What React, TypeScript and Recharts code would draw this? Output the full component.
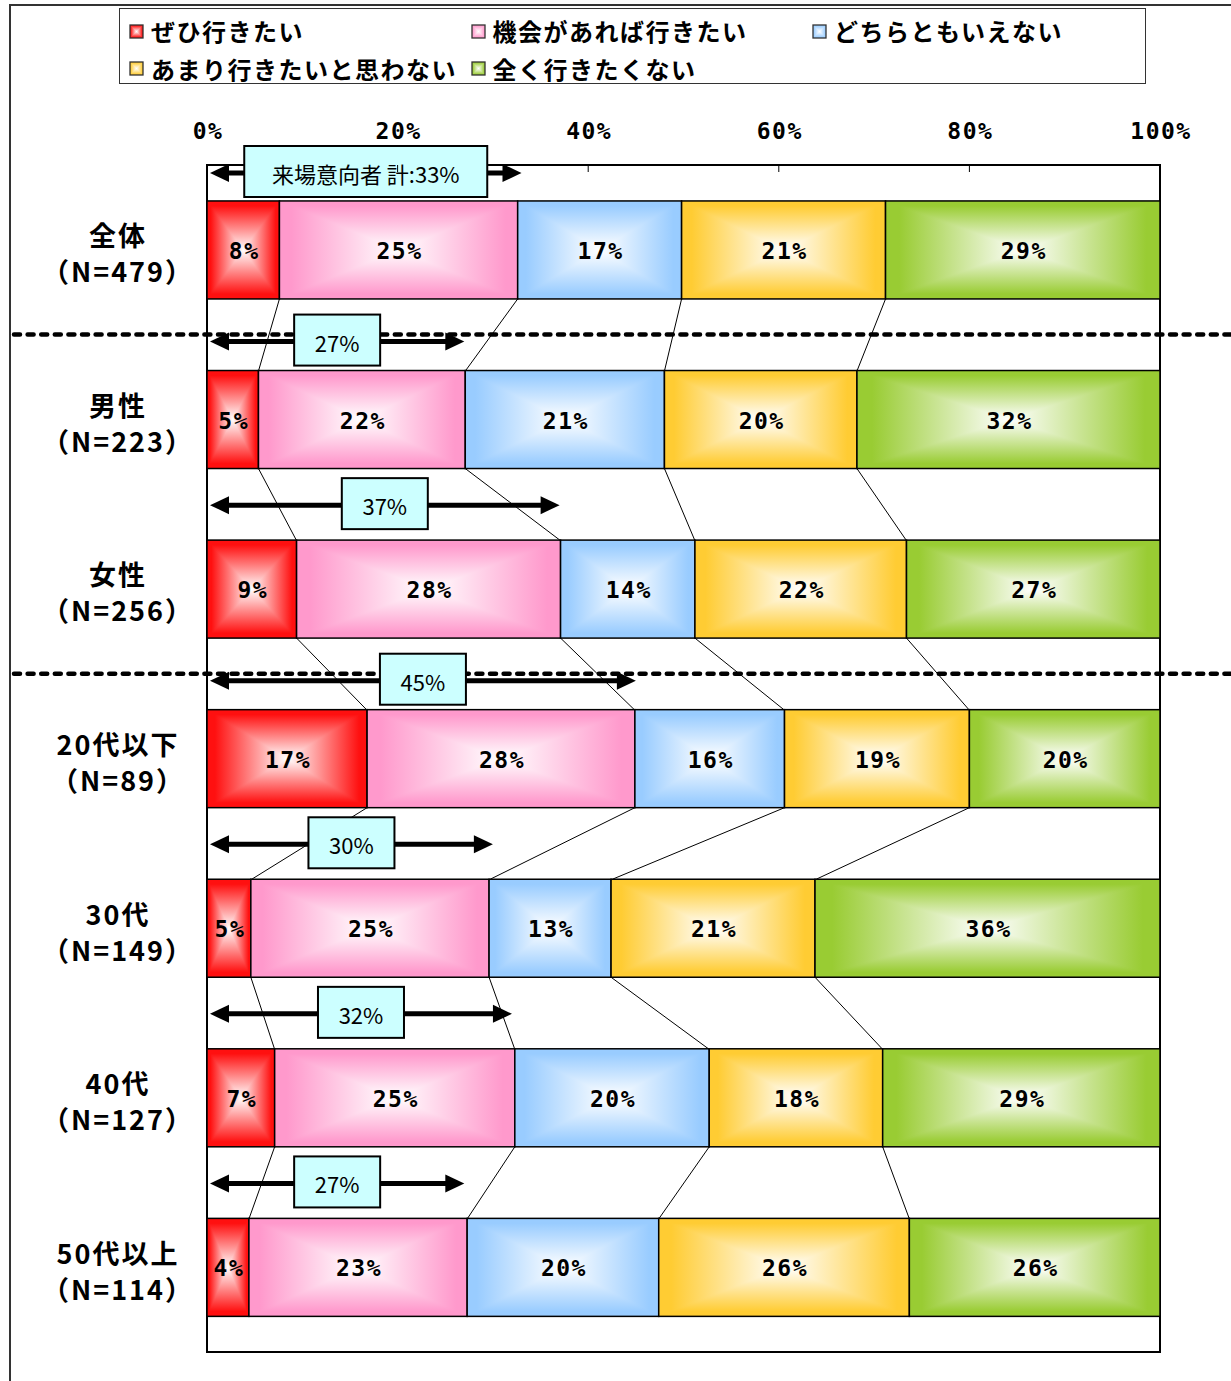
import React from 'react';
import {
  BarChart,
  Bar,
  XAxis,
  YAxis,
  Legend,
  LabelList,
  ReferenceLine,
  ReferenceArea,
} from 'recharts';

const GROUPS = ['全体', '男性', '女性', '20代以下', '30代', '40代', '50代以上'];
const SAMPLE_N = [479, 223, 256, 89, 149, 127, 114];

const SERIES_KEYS = ['s1', 's2', 's3', 's4', 's5'];
const SERIES_NAMES = [
  'ぜひ行きたい',
  '機会があれば行きたい',
  'どちらともいえない',
  'あまり行きたいと思わない',
  '全く行きたくない',
];
const SERIES_COLORS = ['#ff1010', '#ff99cc', '#99ccff', '#ffcc33', '#99cc33'];

// share per group (%)
const DEFINITELY = [7.6, 5.4, 9.4, 16.8, 4.6, 7.1, 4.4];
const IF_CHANCE = [25.0, 21.7, 27.7, 28.1, 25.0, 25.2, 22.9];
const NEUTRAL = [17.2, 20.9, 14.1, 15.7, 12.8, 20.4, 20.1];
const NOT_MUCH = [21.4, 20.2, 22.2, 19.4, 21.4, 18.2, 26.3];
const NEVER = [28.8, 31.8, 26.6, 20.0, 36.2, 29.1, 26.3];

// 来場意向者 (ぜひ + 機会があれば)
const INTENT_TOTAL = [33, 27, 37, 45, 30, 32, 27];
const INTENT_LABELS = ['来場意向者 計:33%', '27%', '37%', '45%', '30%', '32%', '27%'];

const X_TICKS = [0, 20, 40, 60, 80, 100];
const SEPARATOR_BEFORE = ['男性', '20代以下'];

const SERIES_VALUES = [DEFINITELY, IF_CHANCE, NEUTRAL, NOT_MUCH, NEVER];

const CHART_W = 1231;
const CHART_H = 1381;
const BAR_GAP = 0.212;
const MONO = "'DejaVu Sans Mono', monospace";
const JP = "'Noto Sans CJK JP', 'Noto Sans', sans-serif";

const data = GROUPS.map((group, i) => {
  const row: Record<string, string | number> = { group, n: SAMPLE_N[i] };
  SERIES_KEYS.forEach((key, k) => {
    row[key] = SERIES_VALUES[k][i];
  });
  return row;
});

const cumulative = (i: number, k: number) =>
  SERIES_VALUES.slice(0, k).reduce((s, arr) => s + arr[i], 0);

// box-shaped "from centre" gradient: four triangles, colour at the edge, white in the middle
function GradBox(props: any) {
  const { x, y, width, height, k, stroke = '#000', strokeWidth = 1.5 } = props;
  if (width == null || height == null || width <= 0 || height <= 0) return null;
  const cx = x + width / 2;
  const cy = y + height / 2;
  const id = `grad-${k}`;
  return (
    <g>
      <rect x={x} y={y} width={width} height={height} fill={`url(#${id}-c)`} />
      <path d={`M${x},${y}L${x + width},${y}L${cx},${cy}Z`} fill={`url(#${id}-t)`} />
      <path d={`M${x},${y + height}L${x + width},${y + height}L${cx},${cy}Z`} fill={`url(#${id}-b)`} />
      <path d={`M${x},${y}L${x},${y + height}L${cx},${cy}Z`} fill={`url(#${id}-l)`} />
      <path d={`M${x + width},${y}L${x + width},${y + height}L${cx},${cy}Z`} fill={`url(#${id}-r)`} />
      <rect x={x} y={y} width={width} height={height} fill="none" stroke={stroke} strokeWidth={strokeWidth} />
    </g>
  );
}

// last segment of each row: also draws the thin lines down to the next row's boundaries
function LastSegment(props: any) {
  const { x, y, width, height, index } = props;
  if (width == null || height == null) return null;
  const k = SERIES_KEYS.length - 1;
  const pxPerUnit = width / SERIES_VALUES[k][index];
  const left = x - cumulative(index, k) * pxPerUnit;
  const band = height / (1 - 2 * BAR_GAP);
  const bottom = y + height;
  const nextTop = bottom + 2 * BAR_GAP * band;
  const lines = [];
  if (index < GROUPS.length - 1) {
    for (let b = 1; b < SERIES_KEYS.length; b++) {
      lines.push(
        <line
          key={b}
          x1={left + cumulative(index, b) * pxPerUnit}
          y1={bottom}
          x2={left + cumulative(index + 1, b) * pxPerUnit}
          y2={nextTop}
          stroke="#000"
          strokeWidth={1}
        />
      );
    }
  }
  return (
    <g>
      <GradBox {...props} k={k} />
      {lines}
    </g>
  );
}

const gradStops = (c: string) => [
  <stop key="a" offset="0" stopColor={c} />,
  <stop key="b" offset="0.1" stopColor={c} />,
  <stop key="c" offset="1" stopColor="#ffffff" />,
];

const PctTick = (props: any) => {
  const { x, y, payload } = props;
  return (
    <text x={x + 1} y={y} textAnchor="middle" fontSize={23} fontWeight={700} fontFamily={MONO} letterSpacing={1.5} fill="#000">
      {payload.value}%
    </text>
  );
};

const GroupTick = (props: any) => {
  const { x, y, payload } = props;
  const i = GROUPS.indexOf(payload.value);
  const style = { fontSize: 27, fontWeight: 700, fontFamily: JP, letterSpacing: 2, fill: '#000' };
  return (
    <g>
      <text x={x - 89} y={y - 15} textAnchor="middle" dominantBaseline="central" style={style}>
        {payload.value}
      </text>
      <text x={x - 89} y={y + 21} textAnchor="middle" dominantBaseline="central" style={style}>
        （N={SAMPLE_N[i]}）
      </text>
    </g>
  );
};

const renderValue = (props: any) => {
  const vb = props.viewBox ?? props;
  const { x, y, width, height } = vb;
  return (
    <text
      x={x + width / 2 + 1}
      y={y + height / 2 + 1}
      textAnchor="middle"
      dominantBaseline="central"
      fontSize={23}
      fontWeight={700}
      fontFamily={MONO}
      letterSpacing={1.5}
      fill="#000"
    >
      {Math.round(props.value)}%
    </text>
  );
};

const renderLegend = (props: any) => {
  const payload = props.payload || [];
  return (
    <div
      style={{
        position: 'relative',
        width: '100%',
        height: '100%',
        border: '1px solid #333',
        boxSizing: 'border-box',
        background: '#fff',
      }}
    >
      {payload.map((item: any) => {
        const k = SERIES_KEYS.indexOf(item.dataKey);
        const col = k % 3;
        const row = Math.floor(k / 3);
        return (
          <div
            key={item.dataKey}
            style={{
              position: 'absolute',
              left: 9 + col * 341.5,
              top: 6 + row * 37.5,
              height: 32,
              display: 'flex',
              alignItems: 'center',
              whiteSpace: 'nowrap',
            }}
          >
            <svg width={15} height={15} style={{ display: 'block' }}>
              <GradBox x={1} y={1} width={13} height={13} k={k} stroke="#333" strokeWidth={1.3} />
            </svg>
            <span style={{ marginLeft: 7, fontFamily: JP, fontWeight: 700, fontSize: 24, letterSpacing: 1.5, lineHeight: 1, color: '#000' }}>
              {item.value}
            </span>
          </div>
        );
      })}
    </div>
  );
};

const IntentArrow = (props: any) => {
  const { x1, x2, text, dy } = props;
  const y1 = props.y1 + dy;
  const head = 19;
  const half = 9;
  const l = x1 + 3;
  const r = x2;
  const mid = (l + r) / 2;
  const boxW = text.length > 4 ? 243 : 86;
  return (
    <g>
      <line x1={l + head - 2} x2={r - head + 2} y1={y1} y2={y1} stroke="#000" strokeWidth={5} />
      <path d={`M${l},${y1}L${l + head},${y1 - half}L${l + head},${y1 + half}Z`} fill="#000" />
      <path d={`M${r},${y1}L${r - head},${y1 - half}L${r - head},${y1 + half}Z`} fill="#000" />
      <rect x={mid - boxW / 2} y={y1 - 27} width={boxW} height={51} fill="#ccffff" stroke="#000" strokeWidth={2} />
      <text x={mid} y={y1} textAnchor="middle" dominantBaseline="central" fontSize={22} fontFamily={JP} fill="#000">
        {text}
      </text>
    </g>
  );
};

export default function App() {
  return (
    <div style={{ position: 'absolute', left: 0, top: 0, width: CHART_W, height: CHART_H, overflow: 'hidden', background: '#fff' }}>
      <div
        style={{
          position: 'absolute',
          left: 9,
          top: 4,
          width: CHART_W + 40,
          height: CHART_H + 40,
          border: '2px solid #333',
        }}
      />
      <BarChart
        width={CHART_W}
        height={CHART_H}
        data={data}
        layout="vertical"
        margin={{ top: 125, right: 71, bottom: 29, left: 7 }}
        barCategoryGap={`${BAR_GAP * 100}%`}
      >
        <defs>
          {SERIES_COLORS.map((c, k) => (
            <React.Fragment key={c}>
              <linearGradient id={`grad-${k}-t`} x1="0" y1="0" x2="0" y2="1">{gradStops(c)}</linearGradient>
              <linearGradient id={`grad-${k}-b`} x1="0" y1="1" x2="0" y2="0">{gradStops(c)}</linearGradient>
              <linearGradient id={`grad-${k}-l`} x1="0" y1="0" x2="1" y2="0">{gradStops(c)}</linearGradient>
              <linearGradient id={`grad-${k}-r`} x1="1" y1="0" x2="0" y2="0">{gradStops(c)}</linearGradient>
              <radialGradient id={`grad-${k}-c`} cx="0.5" cy="0.5" r="0.6">
                <stop offset="0" stopColor="#ffffff" />
                <stop offset="1" stopColor={c} />
              </radialGradient>
            </React.Fragment>
          ))}
        </defs>
        <XAxis
          type="number"
          orientation="top"
          domain={[0, 100]}
          ticks={X_TICKS}
          interval={0}
          height={40}
          tickSize={-7}
          tickMargin={33}
          axisLine={false}
          tickLine={{ stroke: '#000', strokeWidth: 1 }}
          tick={<PctTick />}
        />
        <YAxis
          type="category"
          dataKey="group"
          width={200}
          interval={0}
          axisLine={false}
          tickLine={false}
          tickSize={0}
          tickMargin={0}
          tick={<GroupTick />}
        />
        <Legend
          layout="horizontal"
          verticalAlign="middle"
          align="center"
          wrapperStyle={{ top: 8, left: 119, width: 1027, height: 76 }}
          content={renderLegend}
        />
        {SERIES_KEYS.map((key, k) => (
          <Bar
            key={key}
            dataKey={key}
            name={SERIES_NAMES[k]}
            stackId="a"
            fill={SERIES_COLORS[k]}
            isAnimationActive={false}
            shape={
              k === SERIES_KEYS.length - 1
                ? (p: any) => <LastSegment {...p} />
                : (p: any) => <GradBox {...p} k={k} />
            }
          >
            <LabelList dataKey={key} content={renderValue} />
          </Bar>
        ))}
        <ReferenceArea x1={0} x2={100} fill="none" fillOpacity={0} stroke="#000" strokeWidth={2} />
        {SEPARATOR_BEFORE.map((g) => (
          <ReferenceLine
            key={`sep-${g}`}
            y={g}
            position="start"
            shape={(p: any) => (
              <line
                x1={14}
                x2={CHART_W + 4}
                y1={p.y1}
                y2={p.y2}
                stroke="#000"
                strokeWidth={4.5}
                strokeDasharray="6 7.6"
                strokeLinecap="round"
              />
            )}
          />
        ))}
        {INTENT_TOTAL.map((t, i) => (
          <ReferenceLine
            key={`a-${i}`}
            position="start"
            segment={[
              { x: 0, y: GROUPS[i] },
              { x: t, y: GROUPS[i] },
            ]}
            shape={(p: any) => (
              <IntentArrow
                {...p}
                text={INTENT_LABELS[i]}
                dy={i === 0 ? 8 : SEPARATOR_BEFORE.includes(GROUPS[i]) ? 7 : 1}
              />
            )}
          />
        ))}
      </BarChart>
    </div>
  );
}
